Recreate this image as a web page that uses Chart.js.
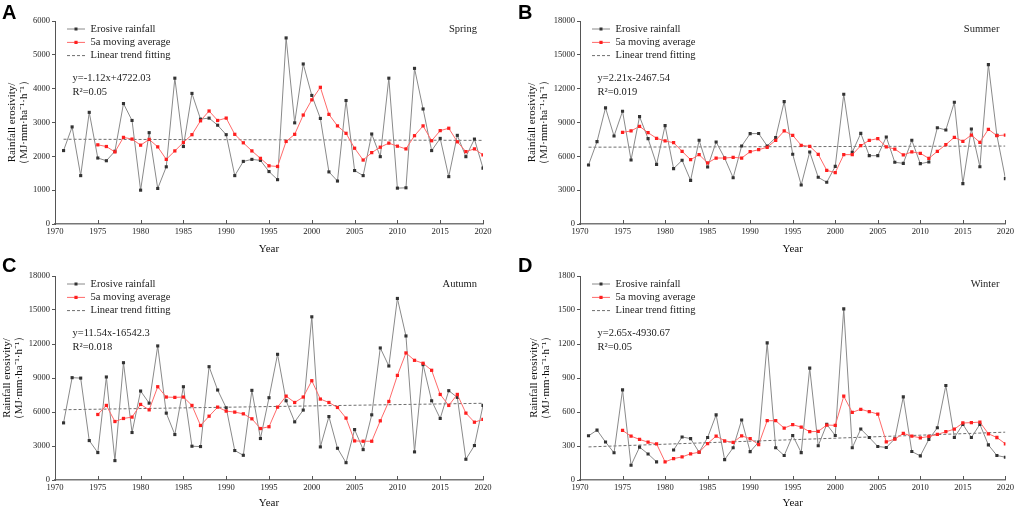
<!DOCTYPE html>
<html>
<head>
<meta charset="utf-8">
<script src="https://cdn.jsdelivr.net/npm/chart.js@4.4.1/dist/chart.umd.min.js"></script>
<style>
  html, body { margin: 0; padding: 0; background: #fff; }
  body { width: 1017px; height: 509px; position: relative; overflow: hidden; }
  .panel { position: absolute; }
  .letter { position: absolute; font: bold 20px "Liberation Sans", Arial, sans-serif; line-height: 20px; color: #000; }
</style>
</head>
<body>
<div class="panel" style="left:0;top:0;width:505px;height:255px"><canvas id="chartA"></canvas></div>
<div class="panel" style="left:520px;top:0;width:497px;height:255px"><canvas id="chartB"></canvas></div>
<div class="panel" style="left:0;top:255px;width:505px;height:254px"><canvas id="chartC"></canvas></div>
<div class="panel" style="left:520px;top:255px;width:497px;height:254px"><canvas id="chartD"></canvas></div>
<div class="letter" style="left:2px;top:2px">A</div>
<div class="letter" style="left:518px;top:2px">B</div>
<div class="letter" style="left:2px;top:255px">C</div>
<div class="letter" style="left:518px;top:255px">D</div>
<script>
// years 1971-2020
const years = [1971, 1972, 1973, 1974, 1975, 1976, 1977, 1978, 1979, 1980,
  1981, 1982, 1983, 1984, 1985, 1986, 1987, 1988, 1989, 1990,
  1991, 1992, 1993, 1994, 1995, 1996, 1997, 1998, 1999, 2000,
  2001, 2002, 2003, 2004, 2005, 2006, 2007, 2008, 2009, 2010,
  2011, 2012, 2013, 2014, 2015, 2016, 2017, 2018, 2019, 2020];
// moving average starts in 1975
const maYears = years.slice(4);
const trendYears = [1971, 2020];

const springRain = [2170, 2870, 1430, 3300, 1950, 1870, 2150, 3560, 3060, 1000,
  2700, 1050, 1690, 4310, 2290, 3860, 3100, 3130, 2920, 2640,
  1430, 1850, 1910, 1880, 1550, 1310, 5500, 2990, 4730, 3800,
  3120, 1540, 1270, 3650, 1580, 1430, 2660, 1990, 4310, 1060,
  1070, 4600, 3400, 2170, 2530, 1400, 2620, 1990, 2510, 1650];
const springMA = [2340, 2290, 2130, 2560, 2510, 2330, 2500, 2280, 1910, 2160,
  2410, 2640, 3050, 3340, 3060, 3130, 2650, 2400, 2160, 1940,
  1720, 1700, 2440, 2650, 3220, 3670, 4040, 3240, 2900, 2680,
  2240, 1890, 2110, 2270, 2390, 2300, 2220, 2610, 2900, 2460,
  2760, 2830, 2430, 2140, 2220, 2040];
const springTrend = [2505, 2472];

const summerRain = [5230, 7300, 10300, 7800, 10000, 5680, 9520, 7570, 5290, 8720,
  4910, 5650, 3870, 7420, 5050, 7270, 5850, 4100, 6920, 8010,
  8020, 6920, 7660, 10850, 6180, 3460, 6390, 4140, 3700, 5110,
  11500, 6360, 8040, 6060, 6060, 7720, 5470, 5380, 7420, 5350,
  5500, 8540, 8340, 10790, 3580, 8420, 5080, 14130, 7860, 4020];
const summerMA = [8130, 8250, 8660, 8100, 7600, 7360, 7210, 6440, 5700, 6150,
  5410, 5850, 5850, 5910, 5850, 6410, 6590, 6800, 7420, 8250,
  7860, 6980, 6890, 6180, 4760, 4550, 6150, 6150, 6950, 7420,
  7570, 6830, 6650, 6120, 6390, 6270, 5820, 6440, 7040, 7690,
  7330, 7890, 7240, 8400, 7830, 7890];
const summerTrend = [6810, 6910];

const autumnRain = [5040, 9030, 8990, 3480, 2420, 9090, 1710, 10350, 4190, 7850,
  6780, 11830, 5900, 4010, 8230, 2980, 2950, 10000, 7940, 6370,
  2600, 2180, 7910, 3660, 7260, 11090, 6990, 5130, 6170, 14400,
  2920, 5600, 2800, 1530, 4450, 2680, 5750, 11650, 10060, 16020,
  12710, 2480, 10180, 6990, 5430, 7880, 7290, 1830, 3040, 6580];
const autumnMA = [5780, 6580, 5160, 5430, 5550, 6670, 6190, 8230, 7320, 7290,
  7320, 6580, 4810, 5630, 6430, 6080, 5990, 5840, 5400, 4540,
  4700, 6430, 7400, 6840, 7320, 8760, 7140, 6840, 6400, 5460,
  3450, 3420, 3420, 5220, 6930, 9230, 11210, 10560, 10300, 9680,
  7550, 6580, 7550, 5900, 5100, 5340];
const autumnTrend = [6200, 6770];

const winterRain = [390, 440, 335, 240, 795, 130, 290, 230, 160, null,
  265, 380, 365, 245, 375, 575, 180, 285, 530, 250,
  335, 1210, 284, 216, 393, 242, 987, 302, 491, 393,
  1510, 284, 450, 375, 296, 287, 364, 733, 251, 213,
  358, 461, 834, 375, 491, 375, 491, 310, 216, 201];
const winterMA = [437, 387, 358, 334, 319, 160, 189, 204, 231, 245,
  322, 387, 346, 331, 390, 364, 313, 523, 523, 458,
  488, 467, 426, 429, 485, 482, 739, 597, 624, 603,
  582, 337, 361, 411, 387, 372, 384, 402, 426, 449,
  503, 506, 511, 408, 375, 319];
const winterTrend = [292, 422];

const seriesLabels = ['Erosive rainfall', '5a moving average', 'Linear trend fitting'];
const yTitle = ['Rainfall erosivity/', '（MJ·mm·ha⁻¹·h⁻¹）'];

const SERIF = '"Liberation Serif", "Times New Roman", serif';
const GREY_LINE = '#8a8a8a';
const DARK_DOT = '#333333';
const RED_LINE = '#ff6a6a';
const RED_DOT = '#ff1f1f';
const TREND = '#6e6e6e';

const toXY = (xs, ys) => xs.map((x, i) => ({ x: x, y: ys[i] }));

// x ticks in the original point up into the plot
const innerTicks = {
    id: 'innerTicks',
    afterDraw(chart) {
        const ctx = chart.ctx;
        const xs = chart.scales.x;
        const bottom = chart.chartArea.bottom;
        ctx.save();
        ctx.strokeStyle = '#555';
        ctx.lineWidth = 1;
        xs.ticks.forEach(t => {
            const px = Math.round(xs.getPixelForValue(t.value)) + 0.5;
            ctx.beginPath();
            ctx.moveTo(px, bottom);
            ctx.lineTo(px, bottom - 4);
            ctx.stroke();
        });
        ctx.restore();
    }
};

const panelText = {
    id: 'panelText',
    afterDatasetsDraw(chart, args, opts) {
        const ctx = chart.ctx;
        const a = chart.chartArea;
        ctx.save();
        ctx.font = '10.5px ' + SERIF;
        ctx.textBaseline = 'middle';
        ctx.textAlign = 'left';

        // legend inside the plot
        const x0 = a.left + 12, x1 = a.left + 30, tx = a.left + 35.5;
        const rows = [a.top + 8, a.top + 21.4, a.top + 34.6];
        ctx.lineWidth = 1;

        ctx.strokeStyle = GREY_LINE;
        ctx.beginPath(); ctx.moveTo(x0, rows[0]); ctx.lineTo(x1, rows[0]); ctx.stroke();
        ctx.fillStyle = DARK_DOT;
        ctx.fillRect((x0 + x1) / 2 - 1.5, rows[0] - 1.5, 3, 3);

        ctx.strokeStyle = RED_LINE;
        ctx.beginPath(); ctx.moveTo(x0, rows[1]); ctx.lineTo(x1, rows[1]); ctx.stroke();
        ctx.fillStyle = RED_DOT;
        ctx.fillRect((x0 + x1) / 2 - 1.6, rows[1] - 1.6, 3.2, 3.2);

        ctx.strokeStyle = TREND;
        ctx.setLineDash([3, 2]);
        ctx.beginPath(); ctx.moveTo(x0, rows[2]); ctx.lineTo(x1, rows[2]); ctx.stroke();
        ctx.setLineDash([]);

        ctx.fillStyle = '#1a1a1a';
        seriesLabels.forEach((label, i) => ctx.fillText(label, tx, rows[i]));

        // fitted equation
        ctx.fillText(opts.equation, a.left + 17.5, a.top + 57.5);
        ctx.fillText(opts.r2, a.left + 17.5, a.top + 71);

        // season
        ctx.textAlign = 'right';
        ctx.fillText(opts.season, a.right - 6, a.top + 8);
        ctx.restore();
    }
};

function makeChart(id, cfg) {
    const ctx = document.getElementById(id).getContext('2d');
    return new Chart(ctx, {
        type: 'line',
        data: {
            datasets: [
                {
                    label: seriesLabels[1],
                    data: toXY(maYears, cfg.ma),
                    borderColor: RED_LINE,
                    borderWidth: 1,
                    pointStyle: 'rect',
                    pointRadius: 2.3,
                    pointBackgroundColor: RED_DOT,
                    pointBorderWidth: 0,
                    tension: 0
                },
                {
                    label: seriesLabels[0],
                    data: toXY(years, cfg.rain),
                    borderColor: GREY_LINE,
                    borderWidth: 1,
                    pointStyle: 'rect',
                    pointRadius: 2.2,
                    pointBackgroundColor: DARK_DOT,
                    pointBorderWidth: 0,
                    spanGaps: false,
                    tension: 0
                },
                {
                    label: seriesLabels[2],
                    data: toXY(trendYears, cfg.trend),
                    borderColor: TREND,
                    borderWidth: 1,
                    borderDash: [3, 2],
                    pointRadius: 0
                }
            ]
        },
        options: {
            responsive: true,
            maintainAspectRatio: false,
            animation: false,
            events: [],
            layout: {
                padding: { top: cfg.top, right: cfg.right, bottom: 0, left: 0 }
            },
            plugins: {
                legend: { display: false },
                tooltip: { enabled: false },
                panelText: { equation: cfg.equation, r2: cfg.r2, season: cfg.season }
            },
            scales: {
                x: {
                    type: 'linear',
                    min: 1970,
                    max: 2020,
                    afterFit: (scale) => { scale.height = cfg.xHeight; },
                    ticks: {
                        stepSize: 5,
                        padding: 3,
                        color: '#222',
                        font: { family: SERIF, size: 8.6 },
                        maxRotation: 0,
                        callback: (v) => String(v)
                    },
                    grid: { drawOnChartArea: false, drawTicks: false },
                    border: { color: '#777', width: 1.6 },
                    title: {
                        display: true,
                        text: 'Year',
                        color: '#111',
                        font: { family: SERIF, size: 11, lineHeight: 1 },
                        padding: { top: 0, bottom: 0 }
                    }
                },
                y: {
                    min: 0,
                    max: cfg.yMax,
                    afterFit: (scale) => { scale.width = cfg.yWidth; },
                    ticks: {
                        stepSize: cfg.yStep,
                        padding: 2,
                        color: '#222',
                        font: { family: SERIF, size: 8.5 },
                        callback: (v) => String(v)
                    },
                    grid: { drawOnChartArea: false, drawTicks: true, tickLength: 3, color: '#555' },
                    border: { color: '#555', width: 1 },
                    title: {
                        display: true,
                        text: yTitle,
                        color: '#111',
                        font: { family: SERIF, size: 11, lineHeight: 1.1 },
                        padding: { top: cfg.titlePad, bottom: 0 }
                    }
                }
            }
        },
        plugins: [panelText, innerTicks]
    });
}

makeChart('chartA', {
    rain: springRain, ma: springMA, trend: springTrend,
    yMax: 6000, yStep: 1000, yWidth: 55, titlePad: 6,
    top: 21, right: 22, xHeight: 31,
    equation: 'y=-1.12x+4722.03', r2: 'R²=0.05', season: 'Spring'
});
makeChart('chartB', {
    rain: summerRain, ma: summerMA, trend: summerTrend,
    yMax: 18000, yStep: 3000, yWidth: 60, titlePad: 6,
    top: 21, right: 10, xHeight: 31,
    equation: 'y=2.21x-2467.54', r2: 'R²=0.019', season: 'Summer'
});
makeChart('chartC', {
    rain: autumnRain, ma: autumnMA, trend: autumnTrend,
    yMax: 18000, yStep: 3000, yWidth: 55, titlePad: 1,
    top: 21, right: 22, xHeight: 29,
    equation: 'y=11.54x-16542.3', r2: 'R²=0.018', season: 'Autumn'
});
makeChart('chartD', {
    rain: winterRain, ma: winterMA, trend: winterTrend,
    yMax: 1800, yStep: 300, yWidth: 60, titlePad: 8,
    top: 21, right: 10, xHeight: 29,
    equation: 'y=2.65x-4930.67', r2: 'R²=0.05', season: 'Winter'
});
</script>
</body>
</html>
